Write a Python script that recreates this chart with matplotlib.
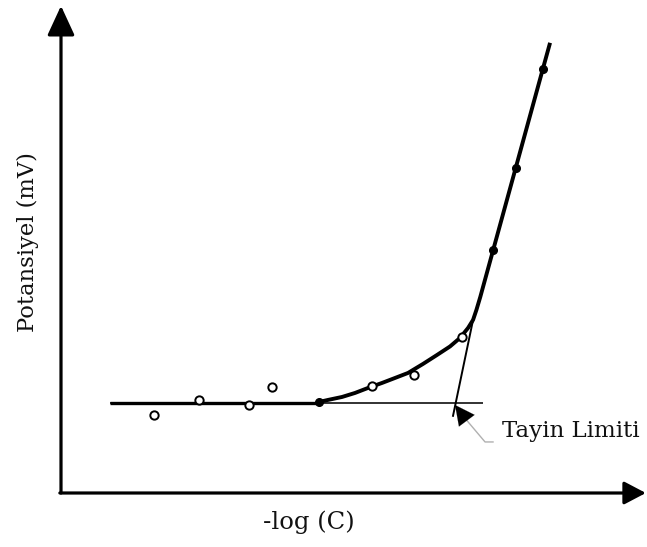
import matplotlib
matplotlib.use("Agg")
import matplotlib.pyplot as plt

# ---- data (arbitrary units) ----
open_x = [1.61, 2.38, 3.25, 3.64, 5.37, 6.10, 6.93]
open_y = [1.61, 1.92, 1.81, 2.19, 2.21, 2.43, 3.22]

filled_x = [4.46, 7.46, 7.85, 8.33]
filled_y = [1.88, 5.01, 6.70, 8.74]

curve_x = [4.456, 4.611, 4.853, 5.078, 5.302, 5.544, 5.769, 5.993, 6.252, 6.494,
           6.718, 6.891, 7.030, 7.116, 7.174, 7.241, 7.464, 7.853, 8.322, 8.446]
curve_y = [1.876, 1.918, 1.979, 2.062, 2.165, 2.268, 2.371, 2.474, 2.660, 2.845,
           3.020, 3.196, 3.402, 3.567, 3.773, 4.041, 5.010, 6.701, 8.742, 9.278]

base_y = 1.856
base_x = [0.846, 7.29]
base_thick_x = [0.846, 4.456]

tangent_x = [6.77, 7.116]
tangent_y = [1.59, 3.567]

limit_pt = (6.805, 1.814)
label_corner = (7.323, 1.052)
label_end = (7.461, 1.052)
label_text_pos = (7.617, 1.155)

xlim = (0, 10.12)
ylim = (0, 10.16)

# ---- figure ----
fig = plt.figure(figsize=(6.47, 5.47), dpi=100)
ax = fig.add_axes([61 / 647, (547 - 493) / 547, (647 - 61) / 647, 493 / 547])
ax.set_xlim(*xlim)
ax.set_ylim(*ylim)
ax.axis("off")

serif = ["DejaVu Serif"]

# axes arrows
ax.annotate("", xy=(0, 10.04), xytext=(0, 0),
            arrowprops=dict(arrowstyle="-|>,head_length=1.3,head_width=0.6",
                            mutation_scale=14, lw=2.3, color="black",
                            shrinkA=0, shrinkB=0), annotation_clip=False)
ax.annotate("", xy=(10.10, 0), xytext=(-0.02, 0),
            arrowprops=dict(arrowstyle="-|>,head_length=0.95,head_width=0.5",
                            mutation_scale=14, lw=2.3, color="black",
                            shrinkA=0, shrinkB=0), annotation_clip=False)

# baseline (thin full, thick left part)
ax.plot(base_x, [base_y, base_y], color="#222222", lw=1.3, solid_capstyle="butt")
ax.plot(base_thick_x, [base_y, base_y], color="black", lw=2.4, solid_capstyle="butt")

# tangent
ax.plot(tangent_x, tangent_y, color="black", lw=1.4)

# curve
ax.plot(curve_x, curve_y, color="black", lw=2.8, solid_joinstyle="round",
        solid_capstyle="butt")

# points
ax.plot(open_x, open_y, "o", ms=6, mfc="white", mec="black", mew=1.4, ls="none")
ax.plot(filled_x, filled_y, "o", ms=5.5, mfc="black", mec="black", ls="none")

# Tayin Limiti annotation
ax.plot([6.97, label_corner[0], label_end[0]],
        [1.55, label_corner[1], label_end[1]], color="#b0b0b0", lw=1.0)
ax.annotate("", xy=limit_pt, xytext=(6.97, 1.55),
            arrowprops=dict(arrowstyle="-|>,head_length=1.0,head_width=0.5",
                            mutation_scale=14, lw=0.1, color="black",
                            shrinkA=0, shrinkB=0))
ax.text(label_text_pos[0], label_text_pos[1], "Tayin Limiti", family=serif,
        fontsize=16.5, va="baseline", ha="left", color="#111111")

# axis labels
fig.text(28 / 647, 1 - 242 / 547, "Potansiyel (mV)", rotation=90, family=serif,
         fontsize=16.3, ha="center", va="center", color="#111111")
fig.text(309 / 647, 1 - 522 / 547, "-log (C)", family=serif,
         fontsize=17.5, ha="center", va="center", color="#111111")

fig.savefig("out.png", dpi=100)
